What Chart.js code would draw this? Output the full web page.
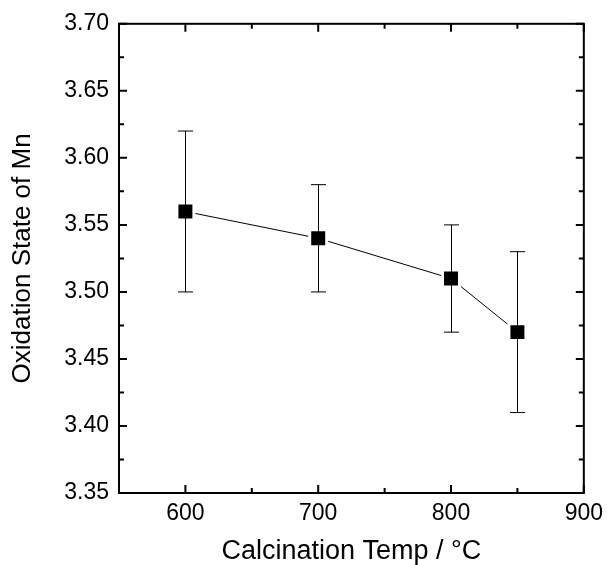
<!DOCTYPE html>
<html>
<head>
<meta charset="utf-8">
<script src="https://cdn.jsdelivr.net/npm/chart.js@4/dist/chart.umd.min.js"></script>
<style>
  html, body { margin:0; padding:0; background:#fff; }
  #wrap { width:610px; height:565px; }
</style>
</head>
<body>
<div id="wrap"><canvas id="chart" width="610" height="565"></canvas></div>
<script>
// values
const temps = [600, 700, 800, 850];
const oxState = [3.56, 3.54, 3.51, 3.47];
const errHigh = [3.62, 3.58, 3.55, 3.53];
const errLow = [3.50, 3.50, 3.47, 3.41];

const xMin = 550, xMax = 900, xStep = 50;
const yMin = 3.35, yMax = 3.70, yStep = 0.025;

const FONT = 'Arial, "Liberation Sans", sans-serif';

// error bars, drawn through the chart scales
const errorBars = {
  id: 'errorBars',
  afterDatasetsDraw(chart){
    const {ctx, scales:{x, y}} = chart;
    ctx.save();
    ctx.strokeStyle = '#000';
    ctx.lineWidth = 1;
    temps.forEach((t, i)=>{
      const px = Math.round(x.getPixelForValue(t)) + 0.5;
      const top = y.getPixelForValue(errHigh[i]);
      const bot = y.getPixelForValue(errLow[i]);
      ctx.beginPath();
      ctx.moveTo(px, top); ctx.lineTo(px, bot);
      ctx.moveTo(px - 7.5, top); ctx.lineTo(px + 7.5, top);
      ctx.moveTo(px - 7.5, bot); ctx.lineTo(px + 7.5, bot);
      ctx.stroke();
    });
    ctx.restore();
  }
};

// box frame with inward ticks on all four sides
const frameTicks = {
  id: 'frameTicks',
  afterDraw(chart){
    const {ctx, chartArea:a, scales:{x, y}} = chart;
    ctx.save();
    ctx.strokeStyle = '#000';
    ctx.lineWidth = 2;
    ctx.strokeRect(a.left, a.top, a.right - a.left, a.bottom - a.top);
    ctx.beginPath();
    x.ticks.forEach(t=>{
      const px = x.getPixelForValue(t.value);
      const len = (Math.round(t.value) % 100 === 0) ? 8 : 5;
      ctx.moveTo(px, a.bottom); ctx.lineTo(px, a.bottom - len);
      ctx.moveTo(px, a.top); ctx.lineTo(px, a.top + len);
    });
    y.ticks.forEach(t=>{
      const py = y.getPixelForValue(t.value);
      const len = (Math.round(t.value * 1000) % 50 === 0) ? 8 : 5;
      ctx.moveTo(a.left, py); ctx.lineTo(a.left + len, py);
      ctx.moveTo(a.right, py); ctx.lineTo(a.right - len, py);
    });
    ctx.stroke();
    ctx.restore();
  }
};

new Chart(document.getElementById('chart'), {
  type: 'line',
  data: {
    datasets: [{
      data: temps.map((t, i)=>({x:t, y:oxState[i]})),
      borderColor: '#000',
      borderWidth: 1,
      pointStyle: 'rect',
      pointRadius: 12,
      pointHoverRadius: 12,
      pointBackgroundColor: '#000',
      pointBorderColor: '#fff',
      pointBorderWidth: 3,
      tension: 0
    }]
  },
  options: {
    responsive: false,
    animation: false,
    layout: { padding: { top: 23, right: 21, left: 0, bottom: 0 } },
    plugins: { legend: { display: false }, tooltip: { enabled: false } },
    scales: {
      x: {
        type: 'linear',
        min: xMin, max: xMax,
        grid: { display: false, drawTicks: false },
        border: { display: false },
        ticks: {
          stepSize: xStep,
          autoSkip: false,
          maxRotation: 0,
          padding: 7,
          color: '#000',
          font: { family: FONT, size: 23 },
          callback: v => (Math.round(v) % 100 === 0) ? String(v) : ''
        },
        title: {
          display: true,
          text: 'Calcination Temp / \u00B0C',
          color: '#000',
          font: { family: FONT, size: 27, lineHeight: 1 },
          padding: 0
        },
        afterFit(scale){ scale.height = 72; }
      },
      y: {
        min: yMin, max: yMax,
        grid: { display: false, drawTicks: false },
        border: { display: false },
        ticks: {
          stepSize: yStep,
          autoSkip: false,
          padding: 10,
          color: '#000',
          font: { family: FONT, size: 23 },
          callback: v => (Math.round(v * 1000) % 50 === 0) ? v.toFixed(2) : ''
        },
        title: {
          display: true,
          text: 'Oxidation State of Mn',
          color: '#000',
          font: { family: FONT, size: 26, lineHeight: 1 },
          padding: { top: 10, bottom: 0 }
        },
        afterFit(scale){ scale.width = 119; }
      }
    }
  },
  plugins: [errorBars, frameTicks]
});
</script>
</body>
</html>
